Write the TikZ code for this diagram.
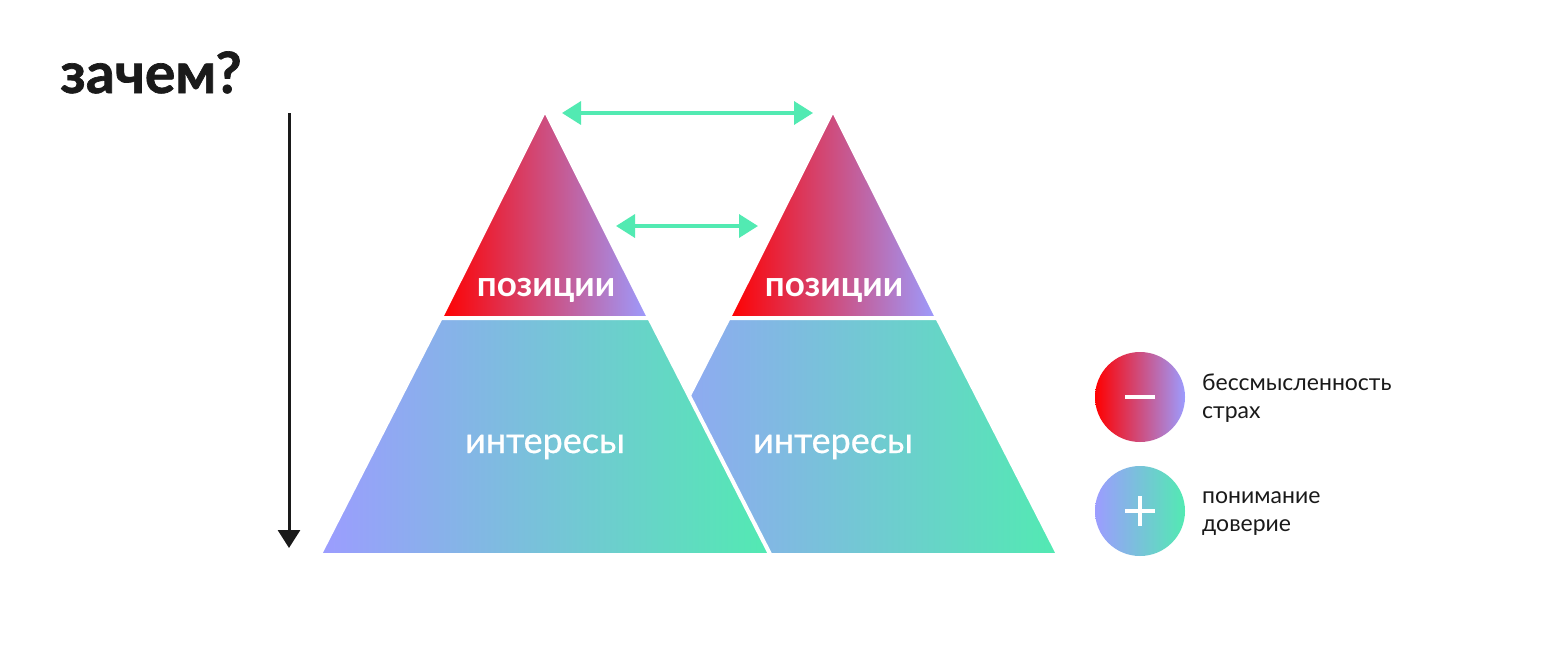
\documentclass[tikz,border=0pt]{standalone}
\usepackage{fontspec}
\setmainfont{Lato}
\newfontfamily\midfont[FakeBold=0.7]{Lato}
\newfontfamily\heavyfont[FakeBold=1.2]{Lato Bold}
\usepackage{xcolor}
\usetikzlibrary{arrows.meta}
\definecolor{hot}{HTML}{FF0000}
\definecolor{lilac}{HTML}{9C9CFF}
\definecolor{mint}{HTML}{52EAB2}
\definecolor{ink}{HTML}{1A1A1A}
\tikzset{
  peakpart/.style={left color=hot,right color=lilac,draw=white,line width=4pt},
  basepart/.style={left color=lilac,right color=mint,draw=white,line width=4pt},
  inlabel/.style={text=white,inner sep=0pt,anchor=base},
  legtext/.style={text=ink,anchor=base west,inner sep=0pt,font=\fontsize{23}{28}\selectfont},
  twoway/.style={draw=mint,line width=3.5pt,
    {Triangle[length=19pt,width=23pt]}-{Triangle[length=19pt,width=23pt]}},
}
\begin{document}
\begin{tikzpicture}[x=1pt,y=-1pt]
	\path[fill=white,use as bounding box] (0,0) rectangle (1560,648);
	%
	%  TITLE AND DEPTH ARROW
	%
	\node[anchor=base west,inner sep=0pt,text=ink,font=\fontsize{57}{62}\selectfont\heavyfont] (title) at (60,93) {зачем?};
	\coordinate (v1) at (289,113);
	\coordinate (v2) at (289,548);
	\draw[ink,line width=3pt,-{Triangle[length=18pt,width=22pt]}] (v1) -- (v2);
	%
	%  RIGHT PYRAMID (behind)
	%
	\shadedraw[peakpart] (833,110) -- (937.3,318) -- (728.7,318) -- cycle;
	\shadedraw[basepart] (728.7,318) -- (937.3,318) -- (1058.5,555) -- (607.5,555) -- cycle;
	%
	%  LEFT PYRAMID (in front)
	%
	\shadedraw[peakpart] (545,110) -- (649.3,318) -- (440.7,318) -- cycle;
	\shadedraw[basepart] (440.7,318) -- (649.3,318) -- (770.5,555) -- (319.5,555) -- cycle;
	%
	%  LABELS
	%
	\node[inlabel,font=\fontsize{35}{40}\selectfont\bfseries] (lpos) at (546,296) {позиции};
	\node[inlabel,font=\fontsize{35}{40}\selectfont\bfseries] (rpos) at (834,296) {позиции};
	\node[inlabel,font=\fontsize{36}{42}\selectfont\midfont] (lint) at (545,453) {интересы};
	\node[inlabel,font=\fontsize{36}{42}\selectfont\midfont] (rint) at (833,453) {интересы};
	%
	%  LINKS
	%
	\coordinate (a1) at (562,113);
	\coordinate (a2) at (813,113);
	\coordinate (b1) at (616,226);
	\coordinate (b2) at (758,226);
	\draw[twoway] (a1) -- (a2);
	\draw[twoway] (b1) -- (b2);
	%
	%  LEGEND
	%
	\node[circle,minimum size=90pt,inner sep=0pt,left color=hot,right color=lilac] (minus) at (1140,397) {};
	\node[circle,minimum size=90pt,inner sep=0pt,left color=lilac,right color=mint] (plus) at (1140,511) {};
	\draw[white,line width=4.5pt] ([xshift=-15pt]minus.center) -- ([xshift=15pt]minus.center);
	\draw[white,line width=4.5pt] ([xshift=-15pt]plus.center) -- ([xshift=15pt]plus.center);
	\draw[white,line width=4.5pt] ([yshift=-15pt]plus.center) -- ([yshift=15pt]plus.center);
	\node[legtext] (m1) at (1202,390) {бессмысленность};
	\node[legtext] (m2) at (1202,418) {страх};
	\node[legtext] (p1) at (1202,503) {понимание};
	\node[legtext] (p2) at (1202,531) {доверие};
\end{tikzpicture}
\end{document}
